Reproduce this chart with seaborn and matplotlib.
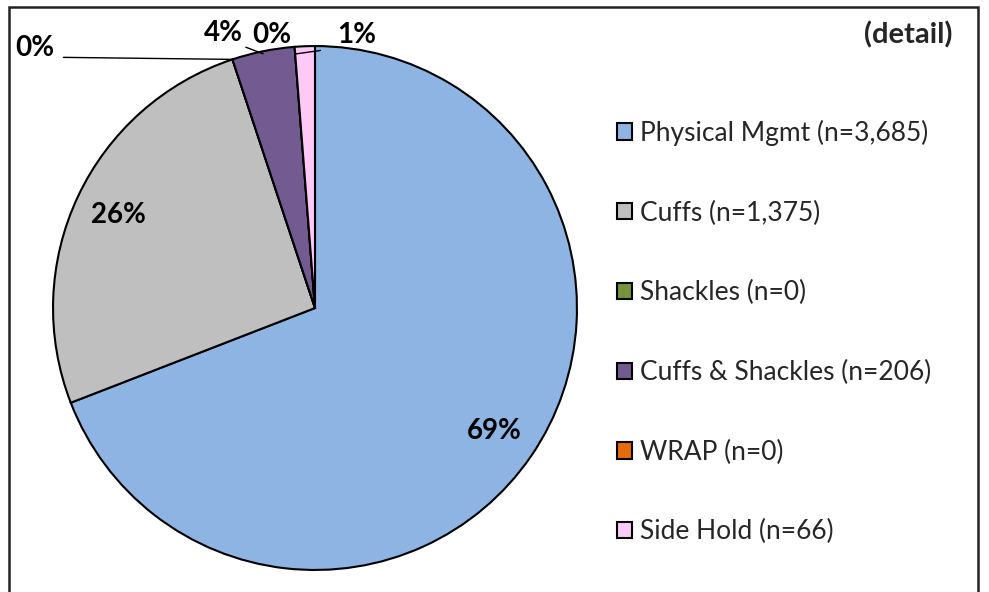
import numpy as np
import matplotlib
matplotlib.use('Agg')
import matplotlib.pyplot as plt
import seaborn as sns
from matplotlib.patches import Rectangle

# data
categories = ['Physical Mgmt', 'Cuffs', 'Shackles', 'Cuffs & Shackles', 'WRAP', 'Side Hold']
counts = [3685, 1375, 0, 206, 0, 66]
colors = ['#8EB4E3', '#BFBFBF', '#77933C', '#735A91', '#E46C0A', '#FFC9F7']

sns.set_style('white')
plt.rcParams['font.family'] = ['Lato', 'DejaVu Sans']

fig = plt.figure(figsize=(9.89, 5.92), dpi=100)
ax = fig.add_axes([0.0536, 0.0372, 0.5298, 0.885])

wedges, _ = ax.pie(counts, colors=colors, startangle=90, counterclock=False,
                   radius=1, wedgeprops=dict(edgecolor='black', linewidth=1.5))
ax.set_xlim(-1, 1)
ax.set_ylim(-1, 1)
ax.set_aspect('equal')
ax.axis('off')

total = sum(counts)
pcts = [f'{round(c / total * 100):.0f}%' for c in counts]

# label placement: big slices inside, small ones outside
label_pos = {0: None, 1: None, 2: (-1.069, 0.992), 3: (-0.351, 1.050),
             4: (-0.165, 1.042), 5: (0.160, 1.042)}
lbl_font = dict(fontsize=20, fontweight='bold', color='black')
for i, w in enumerate(wedges):
    mid = np.deg2rad((w.theta1 + w.theta2) / 2)
    if label_pos[i] is None:
        ax.text(0.83 * np.cos(mid), 0.83 * np.sin(mid), pcts[i],
                ha='center', va='center', **lbl_font)
    elif i == 2:
        ax.annotate(pcts[i], xy=(np.cos(mid), np.sin(mid)), xytext=label_pos[i],
                    ha='center', va='center', annotation_clip=False,
                    arrowprops=dict(arrowstyle='-', color='black', lw=1,
                                    shrinkA=4, shrinkB=0, relpos=(1, 0.15)),
                    **lbl_font)
    elif i == 3:
        ax.annotate(pcts[i], xy=(np.cos(mid), np.sin(mid) * 0.99), xytext=label_pos[i],
                    ha='center', va='center', annotation_clip=False,
                    arrowprops=dict(arrowstyle='-', color='black', lw=1,
                                    shrinkA=0, shrinkB=0, relpos=(1, 0.0)),
                    **lbl_font)
    elif i == 5:
        ax.annotate(pcts[i], xy=(np.cos(np.deg2rad(w.theta2)) * 0.97 + 0.002, 0.97),
                    xytext=label_pos[i], ha='center', va='center', annotation_clip=False,
                    arrowprops=dict(arrowstyle='-', color='black', lw=1,
                                    shrinkA=10, shrinkB=0, relpos=(0, 0.0)),
                    **lbl_font)
    else:
        ax.text(*label_pos[i], pcts[i], ha='center', va='center', **lbl_font)

labels = [f'{c} (n={n:,})' for c, n in zip(categories, counts)]
fig.legend(wedges, labels, loc='center left', bbox_to_anchor=(0.624, 0.439),
           frameon=False, fontsize=19, handlelength=0.57, handleheight=0.57,
           handletextpad=0.3, labelspacing=2.07, borderpad=0, borderaxespad=0)

fig.text(0.9626, 0.941, '(detail)', ha='right', va='center', fontsize=21, fontweight='bold')

fig.patches.append(Rectangle((9 / 989, -0.1), (978 - 9) / 989, 0.988 + 0.1,
                             transform=fig.transFigure, fill=False,
                             edgecolor='#222222', linewidth=1.8))

fig.savefig('out.png', dpi=100)
